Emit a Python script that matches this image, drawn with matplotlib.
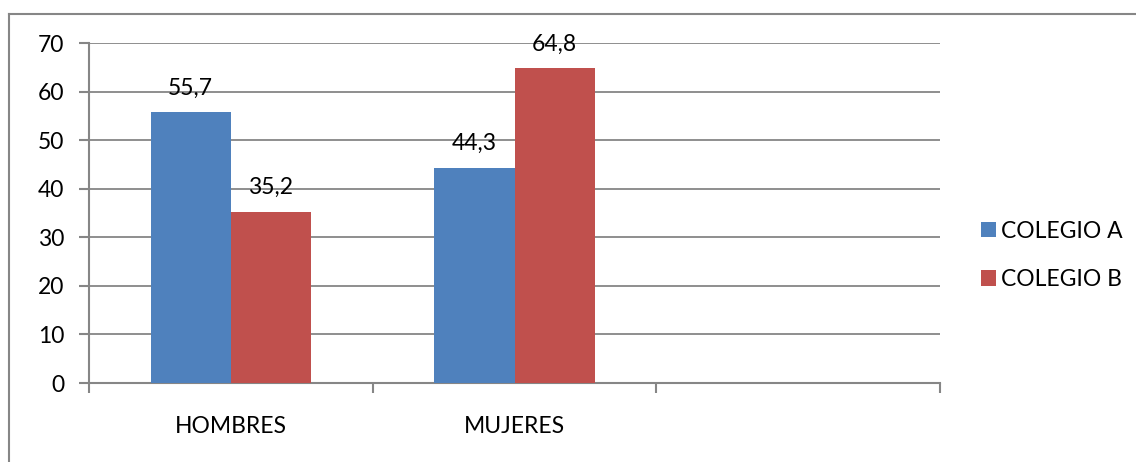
import matplotlib
matplotlib.use("Agg")
import matplotlib.pyplot as plt
from matplotlib.lines import Line2D

categories = ["HOMBRES", "MUJERES", ""]
series_names = ["COLEGIO A", "COLEGIO B"]
colegio_a = [55.7, 44.3]
colegio_b = [35.2, 64.8]
yticks = [0, 10, 20, 30, 40, 50, 60, 70]

plt.rcParams['font.family'] = ['Lato', 'DejaVu Sans']
W, H = 1136, 462
fig = plt.figure(figsize=(W / 100, H / 100), dpi=100)

# outer frame (chart area border)
fig.add_artist(Line2D([8.5 / W, 8.5 / W], [0, 1 - 14 / H], transform=fig.transFigure, color="#868686", lw=1.5))
fig.add_artist(Line2D([8.5 / W, 1], [1 - 14 / H, 1 - 14 / H], transform=fig.transFigure, color="#868686", lw=1.5))

x0, x1 = 89, 940
y0, y1 = 383, 43
ax = fig.add_axes([x0 / W, 1 - y0 / H, (x1 - x0) / W, (y0 - y1) / H])

colA = "#4F81BD"
colB = "#C0504D"
grid = "#868686"
bw = 0.283
xs = list(range(len(colegio_a)))
barsA = ax.bar([x - bw / 2 for x in xs], colegio_a, width=bw, color=colA, label=series_names[0], zorder=3)
barsB = ax.bar([x + bw / 2 for x in xs], colegio_b, width=bw, color=colB, label=series_names[1], zorder=3)

fs = 16.5
for bars, vals in ((barsA, colegio_a), (barsB, colegio_b)):
    for b, v in zip(bars, vals):
        ax.annotate(f"{v:.1f}".replace(".", ","), (b.get_x() + b.get_width() / 2, v),
                    xytext=(0, 10), textcoords="offset points", ha="center", va="bottom",
                    fontsize=fs, zorder=4)

ax.set_xlim(-0.5, len(categories) - 0.5)
ax.set_ylim(0, 70)
ax.set_yticks(yticks)
ax.set_yticklabels([str(t) for t in yticks], fontsize=fs)
for t in yticks[1:]:
    ax.axhline(t, color=grid, lw=1.3, zorder=1)

ax.set_xticks([i - 0.5 for i in range(len(categories) + 1)])
ax.set_xticklabels([])
ax.set_xticks(range(len(categories)), minor=True)
ax.set_xticklabels(categories, minor=True, fontsize=fs)
ax.tick_params(axis="x", which="minor", length=0, pad=24)
ax.tick_params(axis="x", which="major", length=7, width=1.5, color=grid)
ax.tick_params(axis="y", length=7, width=1.5, color=grid, pad=11)

for s in ("top", "right"):
    ax.spines[s].set_visible(False)
for s in ("left", "bottom"):
    ax.spines[s].set_color(grid)
    ax.spines[s].set_linewidth(1.5)

leg = fig.legend(handles=[barsA, barsB], labels=series_names, loc="upper left",
                 bbox_to_anchor=(960 / W, 1 - 200 / H), frameon=False, fontsize=fs,
                 handlelength=0.65, handleheight=0.65, handletextpad=0.25, labelspacing=1.2)

fig.savefig("out.png", dpi=100, facecolor="white")
